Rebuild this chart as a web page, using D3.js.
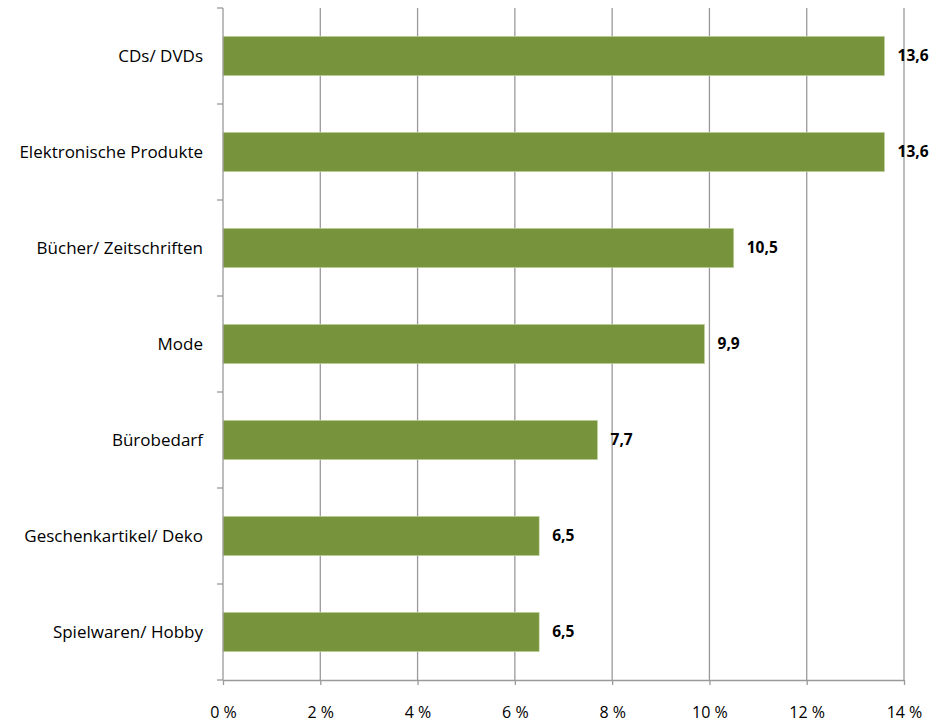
<!DOCTYPE html>
<html>
<head>
<meta charset="utf-8">
<script src="https://cdn.jsdelivr.net/npm/d3@7"></script>
<style>
  html, body { margin: 0; padding: 0; background: #fff; }
  svg { display: block; font-family: "Open Sans", sans-serif; }
</style>
</head>
<body>
<svg id="chart" width="948" height="724"></svg>
<script>
// Product categories, top to bottom
const categories = [
  "CDs/ DVDs",
  "Elektronische Produkte",
  "Bücher/ Zeitschriften",
  "Mode",
  "Bürobedarf",
  "Geschenkartikel/ Deko",
  "Spielwaren/ Hobby"
];
// Share in percent
const values = [13.6, 13.6, 10.5, 9.9, 7.7, 6.5, 6.5];
// Horizontal axis ticks (percent)
const xTicks = [0, 2, 4, 6, 8, 10, 12, 14];

const svg = d3.select("#chart");
const margin = { top: 8, right: 44, bottom: 44, left: 223 };
const width = 948 - margin.left - margin.right;
const height = 724 - margin.top - margin.bottom;
const labelSize = 17;
const tickSize = 16;
const valueSize = 15.5;

const g = svg.append("g").attr("transform", `translate(${margin.left},${margin.top})`);

const x = d3.scaleLinear().domain([0, 14]).range([0, width]);
const y = d3.scaleBand().domain(categories).range([0, height]).paddingInner(0.59).paddingOuter(0.295);

const gridColor = "#9a9a9a";

// Vertical gridlines
g.append("g")
  .selectAll("line")
  .data(xTicks.filter(d => d > 0))
  .join("line")
  .attr("x1", d => x(d)).attr("x2", d => x(d))
  .attr("y1", 0).attr("y2", height)
  .attr("stroke", gridColor).attr("stroke-width", 1.3);

// Bars
g.append("g")
  .selectAll("rect")
  .data(values)
  .join("rect")
  .attr("x", x(0))
  .attr("y", (d, i) => y(categories[i]))
  .attr("width", d => x(d))
  .attr("height", y.bandwidth())
  .attr("fill", "#77933c")
  .attr("stroke", "#c9d9a8")
  .attr("stroke-width", 0.6);

// Value labels
g.append("g")
  .selectAll("text")
  .data(values)
  .join("text")
  .attr("x", d => x(d) + 13)
  .attr("y", (d, i) => y(categories[i]) + y.bandwidth() / 2)
  .attr("dy", "0.35em")
  .attr("font-size", valueSize)
  .attr("font-weight", "bold")
  .attr("fill", "#000")
  .text(d => d.toFixed(1).replace(".", ","));

// Bottom axis
const xAxis = d3.axisBottom(x)
  .tickValues(xTicks)
  .tickSize(5)
  .tickSizeOuter(0)
  .tickPadding(22)
  .tickFormat(d => d + " %");
const xa = g.append("g").attr("transform", `translate(0,${height})`).call(xAxis);
xa.select(".domain").attr("stroke", gridColor).attr("stroke-width", 1.3);
xa.selectAll(".tick line").attr("stroke", gridColor).attr("stroke-width", 1.3);
xa.selectAll(".tick text").attr("font-size", tickSize).attr("fill", "#000").attr("font-family", "'Open Sans', sans-serif");

// Left axis: ticks at band boundaries, labels centred in each band
const step = y.step();
const boundaries = d3.range(categories.length + 1).map(i => i * step);
const ya = g.append("g");
ya.append("line")
  .attr("x1", 0).attr("x2", 0).attr("y1", 0).attr("y2", height)
  .attr("stroke", gridColor).attr("stroke-width", 1.3);
ya.selectAll("line.tk")
  .data(boundaries)
  .join("line").attr("class", "tk")
  .attr("x1", -6).attr("x2", 0)
  .attr("y1", d => d).attr("y2", d => d)
  .attr("stroke", gridColor).attr("stroke-width", 1.3);
ya.selectAll("text")
  .data(categories)
  .join("text")
  .attr("x", -20)
  .attr("y", d => y(d) + y.bandwidth() / 2)
  .attr("dy", "0.35em")
  .attr("text-anchor", "end")
  .attr("font-size", labelSize)
  .attr("fill", "#000")
  .text(d => d);
</script>
</body>
</html>
